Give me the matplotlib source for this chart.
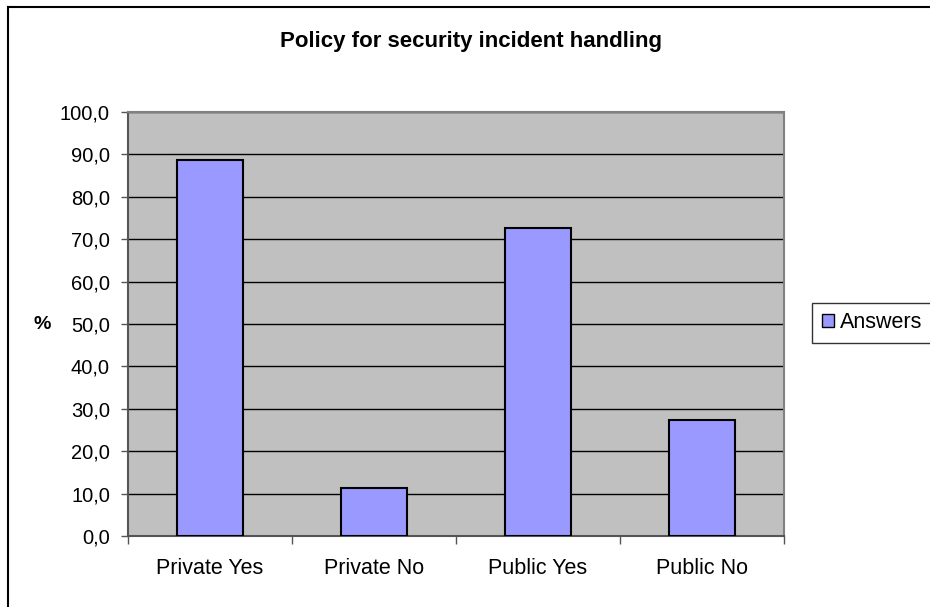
import matplotlib
matplotlib.use('Agg')
import matplotlib.pyplot as plt
from matplotlib.lines import Line2D
from matplotlib.patches import Patch
from matplotlib.ticker import FuncFormatter, FixedLocator
import numpy as np

plt.rcParams['font.family'] = ['Liberation Sans', 'DejaVu Sans']

categories = ['Private Yes', 'Private No', 'Public Yes', 'Public No']
answers = [88.6, 11.4, 72.6, 27.4]
yticks = np.arange(0, 101, 10)

fig = plt.figure(figsize=(9.3, 6.07), dpi=100)
W, H = 930, 607

# outer chart frame (left and top edges visible)
fig.add_artist(Line2D([8 / W, 8 / W], [0, 1 - 7 / H], color='black', lw=1.5, transform=fig.transFigure))
fig.add_artist(Line2D([8 / W, 1], [1 - 7 / H, 1 - 7 / H], color='black', lw=1.5, transform=fig.transFigure))

ax = fig.add_axes([128 / W, 71 / H, 656 / W, 424 / H])
ax.set_facecolor('#c0c0c0')

x = np.arange(len(categories))
ax.bar(x, answers, width=0.40, color='#9999ff', edgecolor='black', linewidth=1.5, zorder=3)

ax.set_xlim(-0.5, len(categories) - 0.5)
ax.set_ylim(0, 100)
ax.set_yticks(yticks)
ax.yaxis.set_major_formatter(FuncFormatter(lambda v, p: ('%.1f' % v).replace('.', ',')))
ax.yaxis.grid(True, color='black', lw=1.0, zorder=1)
ax.set_axisbelow(True)

# categories labelled at centres, ticks drawn at boundaries
ax.set_xticks(x)
ax.set_xticklabels(categories, fontsize=15.5)
ax.tick_params(axis='x', length=0, pad=16)
ax.xaxis.set_minor_locator(FixedLocator(np.arange(-0.5, len(categories), 1.0)))
ax.tick_params(axis='x', which='minor', length=6, width=1, color='#555555')
ax.tick_params(axis='y', labelsize=14.5, length=5, width=1, color='#555555', pad=8)

for side in ['top', 'right']:
    ax.spines[side].set_color('#808080')
    ax.spines[side].set_linewidth(1.5)
for side in ['left', 'bottom']:
    ax.spines[side].set_color('#555555')
    ax.spines[side].set_linewidth(1.5)

fig.text(42 / W, 1 - 325 / H, '%', ha='center', va='center', fontsize=14, fontweight='bold')

fig.text(471 / W, 1 - 41 / H, 'Policy for security incident handling', ha='center', va='center',
         fontsize=16, fontweight='bold')

leg = fig.legend(handles=[Patch(facecolor='#9999ff', edgecolor='black', label='Answers')],
                 loc='center left', bbox_to_anchor=(812 / W, 1 - 323 / H), fontsize=15.5,
                 frameon=True, fancybox=False, handlelength=0.55, handleheight=0.55,
                 handletextpad=0.3, borderpad=0.45, borderaxespad=0)
leg.get_frame().set_edgecolor('black')
leg.get_frame().set_linewidth(1.0)

fig.savefig('out.png', dpi=100)
